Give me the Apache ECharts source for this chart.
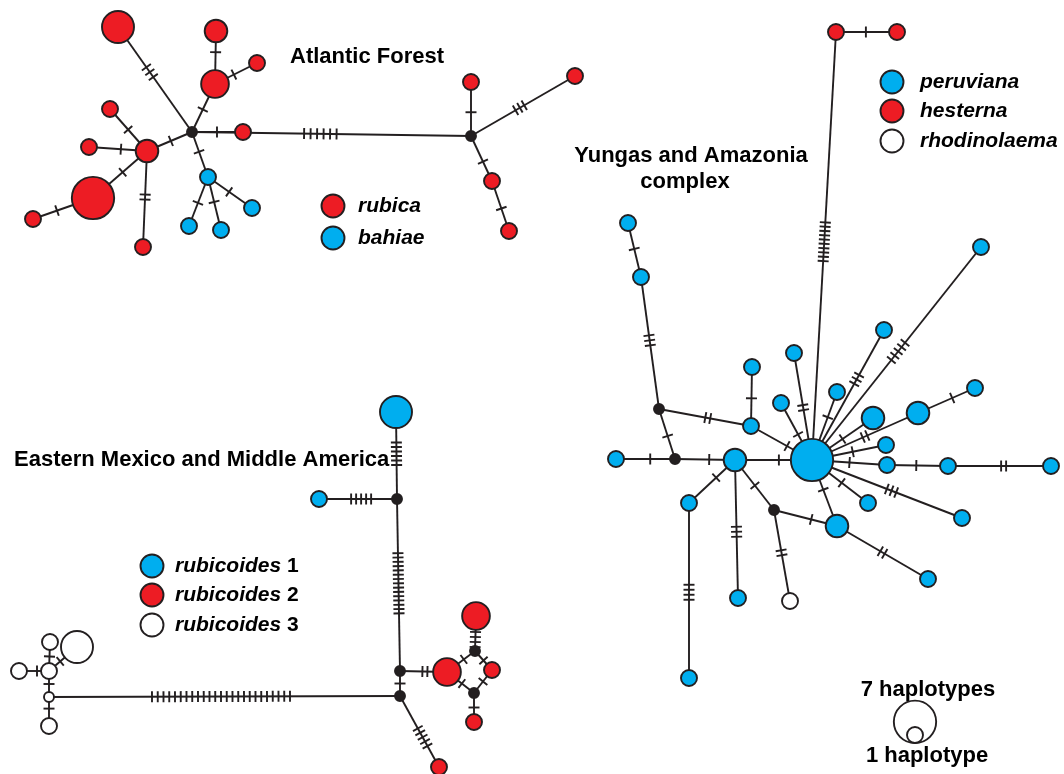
<!DOCTYPE html>
<html><head><meta charset="utf-8">
<script src="https://cdn.jsdelivr.net/npm/echarts@6/dist/echarts.min.js"></script>
<style>html,body{margin:0;padding:0;background:#fff}#c{width:1064px;height:774px}</style>
</head><body><div id="c"></div>
<script>
// ---------------- DATA ----------------
// nodes: [id, x, y, haplotype count (0 = median vector), group]
const atlanticNodes = [
  ['a_big1',118,27,4,'red'], ['A1',192,132,0,'median'], ['a_n1',215,84,3,'red'],
  ['a_n2',216,31,2,'red'], ['a_n3',257,63,1,'red'], ['a_n4',243,132,1,'red'],
  ['a_h2',147,151,2,'red'], ['a_r5',110,109,1,'red'], ['a_r6',89,147,1,'red'],
  ['a_big2',93,198,7,'red'], ['a_r7',33,219,1,'red'], ['a_r8',143,247,1,'red'],
  ['a_b1',208,177,1,'blue'], ['a_b2',189,226,1,'blue'], ['a_b3',221,230,1,'blue'],
  ['a_b4',252,208,1,'blue'], ['A2',471,136,0,'median'], ['a_r9',471,82,1,'red'],
  ['a_r10',575,76,1,'red'], ['a_r11',492,181,1,'red'], ['a_r12',509,231,1,'red']
];
const yungasNodes = [
  ['R1',836,32,1,'red'], ['R2',897,32,1,'red'], ['HUB',812,460,7,'blue'],
  ['y_b1',628,223,1,'blue'], ['y_b2',641,277,1,'blue'], ['K1',659,409,0,'median'],
  ['K2',675,459,0,'median'], ['y_b3',751,426,1,'blue'], ['y_b4',752,367,1,'blue'],
  ['y_l1',616,459,1,'blue'], ['y_m',735,460,2,'blue'], ['y_b5',781,403,1,'blue'],
  ['y_b6',794,353,1,'blue'], ['y_b7',837,392,1,'blue'], ['y_b8',884,330,1,'blue'],
  ['y_b9',981,247,1,'blue'], ['y_b10',873,418,2,'blue'], ['y_b11',918,413,2,'blue'],
  ['y_b12',975,388,1,'blue'], ['y_b13',886,445,1,'blue'], ['y_b14',887,465,1,'blue'],
  ['y_b15',948,466,1,'blue'], ['y_b16',1051,466,1,'blue'], ['y_b17',962,518,1,'blue'],
  ['y_b18',868,503,1,'blue'], ['y_b19',837,526,2,'blue'], ['y_b20',928,579,1,'blue'],
  ['K3',774,510,0,'median'], ['y_w1',790,601,1,'white'], ['y_b21',738,598,1,'blue'],
  ['y_b22',689,503,1,'blue'], ['y_b23',689,678,1,'blue']
];
const mexicoNodes = [
  ['E1',396,412,4,'blue'], ['D1',397,499,0,'median'], ['e_b2',319,499,1,'blue'],
  ['D2',400,671,0,'median'], ['D3',400,696,0,'median'], ['F1',447,672,3,'red'],
  ['F2',476,616,3,'red'], ['G1',475,651,0,'median'], ['G2',474,693,0,'median'],
  ['e_r3',492,670,1,'red'], ['e_r4',474,722,1,'red'], ['e_r5',439,767,1,'red'],
  ['W0',49,697,0,'whiteMedian'], ['W1',49,671,1,'white'], ['W2',19,671,1,'white'],
  ['W3',50,642,1,'white'], ['W4',77,647,4,'white'], ['W5',49,726,1,'white']
];
// edges: [from, to, mutations, fractional position of the mutation marks]
const atlanticEdges = [
  ['a_big1','A1',3,0.43], ['A1','a_n1',1,0.47], ['a_n1','a_n2',1,0.6], ['a_n1','a_n3',1,0.45],
  ['A1','a_n4',1,0.49], ['a_h2','A1',1,0.53], ['A1','a_b1',1,0.44], ['a_h2','a_r5',1,0.51],
  ['a_h2','a_r6',1,0.45], ['a_h2','a_big2',1,0.45], ['a_big2','a_r7',1,0.6], ['a_h2','a_r8',2,0.48],
  ['a_b1','a_b2',1,0.53], ['a_b1','a_b3',1,0.47], ['a_b1','a_b4',1,0.48], ['A1','A2',6,0.46],
  ['A2','a_r9',1,0.44], ['A2','a_r10',3,0.47], ['A2','a_r11',1,0.57], ['a_r11','a_r12',1,0.55]
];
const yungasEdges = [
  ['R1','R2',1,0.49], ['R1','HUB',10,0.49], ['y_b1','y_b2',1,0.48], ['y_b2','K1',3,0.48],
  ['K1','K2',1,0.54], ['K1','y_b3',2,0.53], ['y_b3','y_b4',1,0.47], ['y_b3','HUB',1,0.59],
  ['y_l1','K2',1,0.58], ['K2','y_m',1,0.57], ['y_m','HUB',1,0.57], ['y_b5','HUB',1,0.55],
  ['y_b6','HUB',2,0.51], ['y_b7','HUB',1,0.37], ['y_b8','HUB',3,0.38], ['y_b9','HUB',5,0.49],
  ['HUB','y_b10',1,0.5], ['HUB','y_b11',2,0.5], ['y_b11','y_b12',1,0.6], ['HUB','y_b13',1,0.55],
  ['HUB','y_b14',1,0.5], ['y_b14','y_b15',1,0.48], ['y_b15','y_b16',2,0.54], ['HUB','y_b17',3,0.53],
  ['HUB','y_b18',1,0.53], ['HUB','y_b19',1,0.45], ['y_b19','y_b20',2,0.5], ['K3','y_b19',1,0.59],
  ['y_m','K3',1,0.51], ['K3','y_w1',2,0.47], ['y_m','y_b21',3,0.52], ['y_m','y_b22',1,0.41],
  ['y_b22','y_b23',4,0.51]
];
const mexicoEdges = [
  ['E1','D1',6,0.48], ['e_b2','D1',5,0.54], ['D1','D2',15,0.49], ['D2','D3',1,0.5],
  ['D2','F1',2,0.53], ['D3','e_r5',5,0.58], ['D3','W0',25,0.51], ['W0','W1',1,0.5],
  ['W0','W5',1,0.4], ['W1','W2',1,0.4], ['W1','W3',1,0.5], ['W1','W4',1,0.4],
  ['F2','G1',5,0.6], ['F1','G1',1,0.6], ['G1','e_r3',1,0.5], ['F1','G2',1,0.55],
  ['G2','e_r3',1,0.5], ['G2','e_r4',1,0.5]
];
// legends
const legendAtlantic = [['rubica','red'], ['bahiae','blue']];
const legendYungas = [['peruviana','blue'], ['hesterna','red'], ['rhodinolaema','white']];
const legendMexico = [['rubicoides','1','blue'], ['rubicoides','2','red'], ['rubicoides','3','white']];
const sizeLegend = [[7,'7 haplotypes'], [1,'1 haplotype']];
const titles = ['Atlantic Forest', 'Yungas and Amazonia', 'complex', 'Eastern Mexico and Middle America'];

// ---------------- STYLE / LAYOUT ----------------
const INK = '#231F20';
const FILL = { red:'#ED1C24', blue:'#00AEEF', white:'#FFFFFF', median:'#231F20', whiteMedian:'#FFFFFF' };
const R1 = 8; // radius of a single-haplotype circle (area proportional)
const hatchGap = { 'A1-A2':6.5, 'R1-HUB':4.3, 'D1-D2':4.3, 'E1-D1':4.5, 'D3-W0':5.75, 'a_big1-A1':6, 'y_b9-HUB':5.5 };
const FONT = '"Liberation Sans", Arial, Helvetica, sans-serif';
const FS = 22;   // titles
const LFS = 21;  // legend labels
const LW = 1.9;

const allNodes = atlanticNodes.concat(yungasNodes, mexicoNodes);
const nodeMap = {};
allNodes.forEach(n => nodeMap[n[0]] = n);
const allEdges = atlanticEdges.concat(yungasEdges, mexicoEdges);

const edgeData = allEdges.map(([a,b,n,t]) => {
  const A = nodeMap[a], B = nodeMap[b];
  return [A[1], A[2], B[1], B[2], n, t, hatchGap[a+'-'+b] || 5];
});
const nodeData = allNodes.map(n => ({ value:[n[1], n[2], n[3]], group:n[4] }));

function radiusOf(count){ return count > 0 ? R1*Math.sqrt(count) : 5; }

function renderEdge(params, api){
  const p1 = api.coord([api.value(0), api.value(1)]);
  const p2 = api.coord([api.value(2), api.value(3)]);
  const n = api.value(4), t = api.value(5), gap = api.value(6);
  const dx = p2[0]-p1[0], dy = p2[1]-p1[1], L = Math.hypot(dx,dy);
  const ux = dx/L, uy = dy/L, px = -uy, py = ux;
  const cx = p1[0]+dx*t, cy = p1[1]+dy*t, h = 5.5;
  const st = { stroke:INK, lineWidth:LW };
  const children = [{ type:'line', shape:{x1:p1[0],y1:p1[1],x2:p2[0],y2:p2[1]}, style:st }];
  for (let k=0;k<n;k++){
    const off = (k-(n-1)/2)*gap;
    const ox = cx+ux*off, oy = cy+uy*off;
    children.push({ type:'line', shape:{x1:ox-px*h,y1:oy-py*h,x2:ox+px*h,y2:oy+py*h}, style:st });
  }
  return { type:'group', children };
}

// legend swatches (layout positions)
const swatchPos = {
  atl: [[333,206],[333,238]],
  yun: [[892,82],[892,111],[892,141]],
  mex: [[152,566],[152,595],[152,625]]
};
const swatchData = [];
const graphics = [];
function addLegend(items, pos, textX){
  items.forEach((it,i) => {
    const color = it[it.length-1];
    swatchData.push({ value:pos[i], itemStyle:{ color:FILL[color] } });
    if (it.length === 3){
      graphics.push({ type:'text', x:textX, y:pos[i][1], silent:true,
        style:{ text:'{i|'+it[0]+'}{n| '+it[1]+'}', verticalAlign:'middle', align:'left',
          rich:{ i:{ fontStyle:'italic', fontWeight:'bold', fontSize:LFS, fontFamily:FONT, fill:'#000' },
                 n:{ fontWeight:'bold', fontSize:LFS, fontFamily:FONT, fill:'#000' } } } });
    } else {
      graphics.push({ type:'text', x:textX, y:pos[i][1], silent:true,
        style:{ text:it[0], font:'italic bold '+LFS+'px '+FONT, fill:'#000', verticalAlign:'middle', align:'left' } });
    }
  });
}
addLegend(legendAtlantic, swatchPos.atl, 358);
addLegend(legendYungas, swatchPos.yun, 920);
addLegend(legendMexico, swatchPos.mex, 175);

function titleText(txt, x, y, align){
  graphics.push({ type:'text', x, y, silent:true,
    style:{ text:txt, font:'bold '+FS+'px '+FONT, fill:'#000', verticalAlign:'middle', align } });
}
titleText(titles[0], 290, 57, 'left');
titleText(titles[1], 691, 156, 'center');
titleText(titles[2], 685, 182, 'center');
titleText(titles[3], 14, 460, 'left');

// size legend
const sizeBase = [915, 743];
const sizeData = sizeLegend.map(s => ({ value:[sizeBase[0], sizeBase[1]-radiusOf(s[0])], count:s[0] }));
titleText(sizeLegend[0][1], 928, 690, 'center');
titleText(sizeLegend[1][1], 927, 756, 'center');

const chart = echarts.init(document.getElementById('c'), null, { renderer:'canvas' });
chart.setOption({
  animation:false,
  backgroundColor:'#ffffff',
  grid:{ left:0, right:0, top:0, bottom:0 },
  xAxis:{ type:'value', min:0, max:1064, show:false },
  yAxis:{ type:'value', min:0, max:774, inverse:true, show:false },
  graphic: graphics,
  series:[
    { type:'custom', renderItem:renderEdge, data:edgeData, encode:{ x:[0,2], y:[1,3] }, silent:true, z:2, clip:false },
    { type:'scatter', data:nodeData, z:3, silent:true,
      symbolSize: v => 2*radiusOf(v[2]),
      itemStyle:{ borderColor:INK, borderWidth:LW, opacity:1,
        color: p => FILL[p.data.group] } },
    { type:'scatter', data:swatchData, z:3, silent:true, symbolSize:23,
      itemStyle:{ borderColor:INK, borderWidth:LW, opacity:1 } },
    { type:'scatter', data:sizeData, z:3, silent:true,
      symbolSize: (v, p) => 2*radiusOf(sizeData[p.dataIndex].count),
      itemStyle:{ color:'rgba(0,0,0,0)', borderColor:INK, borderWidth:LW, opacity:1 } }
  ]
});
</script></body></html>
